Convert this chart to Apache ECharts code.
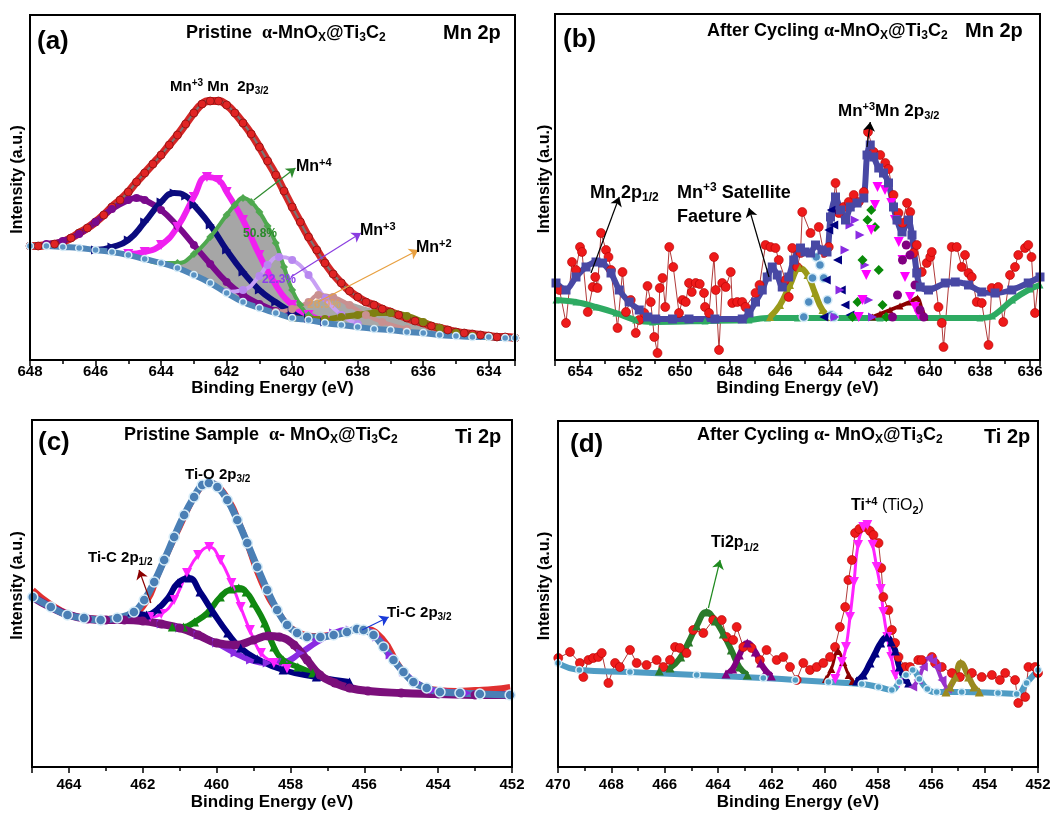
<!DOCTYPE html>
<html>
<head>
<meta charset="utf-8">
<script src="https://cdn.jsdelivr.net/npm/echarts@6/dist/echarts.min.js"></script>
<style>
  html, body { margin: 0; background: #fff; }
  #chart { width: 1060px; height: 816px; }
</style>
</head>
<body>
<div id="chart"></div>
<script>
const FONT = '"Liberation Sans", Arial, sans-serif';

// ---- (a) Pristine Mn 2p : [binding energy, intensity] ----
const A_RED = [[648,114],[647.75,114],[647.5,115],[647.25,116],[647,118],[646.75,122],[646.5,127],[646.25,132],[646,138],[645.75,145],[645.5,153],[645.25,160],[645,168],[644.75,178],[644.5,187],[644.25,196],[644,205],[643.75,215],[643.5,225],[643.25,236],[643,247],[642.75,256],[642.5,259],[642.25,259],[642,255],[641.75,247],[641.5,237],[641.25,226],[641,213],[640.75,199],[640.5,185],[640.25,169],[640,153],[639.75,138],[639.5,123],[639.25,110],[639,97],[638.75,86],[638.5,77],[638.25,69],[638,63],[637.75,58],[637.5,55],[637.25,51],[637,48],[636.75,45],[636.5,42],[636.25,39],[636,37],[635.75,34],[635.5,32],[635.25,30],[635,28],[634.75,27],[634.5,26],[634.25,25],[634,24],[633.75,23],[633.5,23],[633.2,22]];
const A_BG = [[648,114],[647.5,114],[647,113],[646.5,112],[646,110],[645.5,108],[645,105],[644.5,101],[644,97],[643.5,92],[643,85],[642.5,77],[642,67],[641.5,58],[641,52],[640.5,47],[640,42],[639.5,40],[639,37],[638.5,35],[638,33],[637.5,31],[637,30],[636.5,28],[636,27],[635.5,25],[635,24],[634.5,23],[634,23],[633.5,22],[633.2,22]];
const A_PURPLE = [[647.5,116],[647,119],[646.5,126],[646,138],[645.5,151],[645,160],[644.75,162],[644.5,160],[644,150],[643.5,134],[643,115],[642.5,96],[642,78],[641.5,65],[641,56],[640.5,49],[640,43]];
const A_NAVY = [[646,110],[645.5,113],[645,120],[644.5,138],[644,158],[643.6,167],[643.25,164],[643,155],[642.5,135],[642,110],[641.5,88],[641,70],[640.5,58],[640,48],[639.5,42],[639,38]];
const A_MAGENTA = [[645,106],[644.5,108],[644,115],[643.5,133],[643,163],[642.6,183],[642.25,180],[642,168],[641.5,140],[641,105],[640.5,75],[640,55],[639.5,45],[639,39]];
const A_GREEN = [[644.5,101],[644,97],[643.5,97],[643,106],[642.5,123],[642,145],[641.75,155],[641.5,162],[641.25,158],[641,148],[640.75,134],[640.5,117],[640.25,93],[640,70],[639.75,55],[639.5,45],[639,38]];
const A_LAVENDER = [[642,68],[641.5,70],[641,84],[640.75,95],[640.4,103],[640,100],[639.5,85],[639,62],[638.5,45],[638,36]];
const A_ROSE = [[640.5,48],[640,51],[639.5,58],[639.2,65],[638.75,63],[638.25,55],[637.75,45],[637.25,38],[636.5,31]];
const A_OLIVE = [[640,42],[639.5,41],[639,41],[638.5,43],[638,45],[637.5,47],[637,47],[636.5,44],[636,38],[635.5,32],[635,27],[634.5,24],[634,23]];
const A_GRAY = [[640.25,44],[639.75,52],[639.25,60],[638.75,62],[638.25,58],[637.75,53],[637.25,49],[636.5,44],[636,40],[635.5,36],[635,32],[634.5,28],[634,25],[633.5,23],[633.2,22]];

// ---- (b) After cycling Mn 2p ----
const B_RED = [[654.82,70],[654.56,37],[654.32,98],[654.16,90],[654.0,113],[653.92,108],[653.69,48],[653.49,73],[653.39,83],[653.3,72],[653.16,127],[652.96,110],[652.86,103],[652.76,90],[652.5,32],[652.3,88],[652.16,48],[651.97,60],[651.77,27],[651.63,40],[651.43,47],[651.3,74],[651.17,58],[651.03,23],[650.9,7],[650.81,72],[650.7,82],[650.59,53],[650.43,113],[650.27,93],[650.04,47],[649.9,60],[649.77,58],[649.64,77],[649.53,68],[649.37,77],[649.21,76],[649.04,67],[649.0,53],[648.84,47],[648.64,103],[648.57,70],[648.44,10],[648.31,77],[648.17,73],[647.97,88],[647.91,57],[647.71,58],[647.51,58],[647.38,53],[646.98,67],[646.82,75],[646.58,115],[646.38,113],[646.18,112],[646.05,100],[645.78,80],[645.65,63],[645.51,112],[645.31,93],[645.18,107],[645.11,148],[644.78,127],[644.45,133],[644.25,107],[644.05,113],[643.78,177],[643.65,147],[643.45,153],[643.25,158],[643.05,165],[642.85,158],[642.65,168],[642.48,228],[642.25,208],[641.99,205],[641.79,197],[641.66,191],[641.46,165],[641.26,147],[641.1,137],[640.92,157],[640.79,148],[640.66,107],[640.53,115],[640.33,88],[640.13,97],[639.99,103],[639.93,108],[639.66,53],[639.53,37],[639.46,13],[639.13,113],[638.93,113],[638.73,93],[638.6,105],[638.46,87],[638.33,83],[638.13,58],[637.93,57],[637.66,15],[637.53,72],[637.27,73],[637.07,38],[636.8,85],[636.6,93],[636.47,105],[636.2,112],[636.07,115],[635.94,103],[635.8,47],[635.54,108]];
const B_BLUE = [[654.96,77],[654.56,70],[654.16,83],[653.76,93],[653.36,98],[653.1,97],[652.76,87],[652.43,70],[652.03,58],[651.63,50],[651.3,43],[650.97,41],[650.3,41],[649.64,41],[648.6,41],[647.51,41],[647.24,47],[646.98,58],[646.71,70],[646.51,83],[646.31,93],[646.11,85],[645.91,73],[645.65,83],[645.45,100],[645.18,112],[645.0,108],[644.78,107],[644.58,115],[644.32,110],[644.12,108],[643.98,143],[643.78,163],[643.58,150],[643.38,140],[643.19,153],[642.92,157],[642.65,162],[642.52,205],[642.39,215],[642.25,203],[642.05,192],[641.86,187],[641.66,177],[641.46,153],[641.32,140],[641.12,128],[640.86,140],[640.72,125],[640.53,87],[640.39,73],[640.06,70],[639.39,77],[638.99,78],[638.46,75],[637.93,68],[637.4,67],[636.73,70],[636.07,77],[635.6,83]];
const B_GREEN = [[654.96,60],[654.16,58],[653.36,53],[652.56,47],[651.77,40],[651.1,38],[649,39],[647.24,40],[646.5,42],[645.3,42],[642,42],[638,42],[637.5,44],[636.7,60],[636.0,71],[635.6,75]];
const B_OLIVE = [[646.4,43],[646.0,55],[645.6,75],[645.2,92],[644.9,85],[644.6,67],[644.3,50],[644.0,43]];
const B_BALLS = [[645.05,43],[644.85,58],[644.7,82],[644.55,103],[644.4,95],[644.25,82],[644.1,60],[643.95,45],[643.85,43]];
const B_NAVY = [[644.25,43],[644.15,80],[644.05,130],[643.95,150],[643.85,135],[643.7,100],[643.55,70],[643.4,55],[643.2,45]];
const B_VIOLET = [[643.8,43],[643.6,70],[643.4,110],[643.2,135],[643.0,140],[642.8,125],[642.6,95],[642.45,60],[642.3,43]];
const B_DIAMOND = [[643.1,43],[642.9,58],[642.7,100],[642.5,140],[642.35,150],[642.2,133],[642.05,90],[641.9,55],[641.75,43]];
const B_MAGENTA = [[642.85,43],[642.7,60],[642.55,85],[642.35,130],[642.2,155],[642.1,173],[641.8,170],[641.55,157],[641.4,140],[641.25,118],[641.1,100],[641.0,83],[640.8,63],[640.6,53],[640.45,45]];
const B_DPURPLE = [[641.5,43],[641.3,65],[641.1,100],[640.95,115],[640.8,105],[640.6,75],[640.4,50],[640.25,43]];
const B_DRED = [[642.3,43],[642.0,46],[641.6,50],[641.2,54],[640.8,58],[640.5,62],[640.35,52],[640.2,43]];

// ---- (c) Pristine Ti 2p ----
const C_RED = [[464.98,177],[464.5,163],[464,153],[463.5,149],[463,148],[462.5,150],[462,160],[461.5,200],[461,240],[460.5,276],[460.2,284],[459.8,274],[459.3,236],[458.8,186],[458.3,153],[457.8,135],[457.3,131],[456.8,133],[456.3,137],[456,138],[455.5,128],[455,98],[454.5,82],[454,77],[453.5,76],[453,77],[452.5,78],[452.05,80]];
const C_ENV = [[464.98,170],[464.49,160],[464.04,152],[463.59,149],[463.14,147],[462.69,149],[462.24,155],[461.96,167],[461.69,185],[461.42,207],[461.15,230],[460.88,252],[460.61,270],[460.39,282],[460.21,284],[459.98,280],[459.71,267],[459.44,247],[459.17,224],[458.9,200],[458.63,177],[458.36,157],[458.09,142],[457.82,134],[457.55,130],[457.19,130],[456.83,132],[456.47,135],[456.2,138],[456.02,137],[455.75,132],[455.48,120],[455.21,107],[454.94,95],[454.67,85],[454.31,79],[453.95,75],[453.41,74],[452.87,73],[452.05,72]];
const C_PURPLE = [[464.98,170],[464.5,160],[464,152],[463.5,148],[463,147],[462.5,147],[462,146],[461.5,143],[461,139],[460.5,132],[460,124],[459.5,122],[459,127],[458.6,131],[458.3,130],[457.9,122],[457.55,107],[457.2,92],[456.8,84],[456.4,79],[455.9,76],[455,74],[454,73],[453,72],[452.05,72]];
const C_VIOLET = [[461.5,143],[461,139],[460.5,132],[460,124],[459.5,114],[459.08,107],[458.63,104],[458.18,105],[457.73,114],[457.28,125],[456.83,134],[456.38,137],[456.02,137],[455.66,130],[455.3,112],[454.94,95],[454.58,84],[454.13,77],[453.22,74],[452.05,72]];
const C_NAVY = [[462.3,155],[461.9,152],[461.6,158],[461.3,170],[461.05,184],[460.75,189],[460.45,175],[460.1,155],[459.7,134],[459.35,119],[458.9,108],[458.2,97],[457.3,90],[456.4,85]];
const C_MAGENTA = [[461.8,150],[461.5,153],[461.15,167],[460.8,194],[460.5,212],[460.2,220],[459.9,207],[459.6,184],[459.35,160],[459.1,137],[458.8,114],[458.45,104],[458.1,98]];
const C_GREEN = [[461.2,140],[460.9,140],[460.6,145],[460.25,154],[459.9,170],[459.6,178],[459.4,179],[459.2,175],[459.0,164],[458.7,144],[458.45,120],[458.2,107],[457.8,100],[457.4,94]];

// ---- (d) After cycling Ti 2p ----
const D_RED = [[469.99,109],[469.55,115],[469.18,104],[469.05,90],[468.86,107],[468.68,109],[468.49,110],[468.36,114],[468.11,84],[467.86,104],[467.68,100],[467.3,117],[467.05,104],[466.68,102],[466.3,107],[466.05,100],[465.8,107],[465.61,120],[465.43,119],[465.18,114],[464.93,137],[464.55,134],[464.18,147],[463.86,147],[463.68,130],[463.43,127],[463.3,140],[463.05,120],[462.74,119],[462.43,107],[462.18,117],[461.8,107],[461.55,110],[461.3,100],[461.05,87],[460.8,104],[460.55,97],[460.3,100],[460.05,104],[459.8,110],[459.61,120],[459.43,140],[459.23,160],[459.11,187],[458.98,207],[458.86,234],[458.7,238],[458.5,240],[458.3,236],[458.17,232],[457.98,224],[457.88,199],[457.8,170],[457.61,157],[457.48,137],[457.36,124],[457.23,110],[456.98,100],[456.8,100],[456.49,107],[456.36,107],[455.98,110],[455.86,104],[455.61,100],[455.23,94],[454.93,90],[454.48,94],[454.11,90],[453.73,92],[453.43,87],[453.23,94],[452.86,87],[452.74,64],[452.48,70],[452.36,100],[452.11,100],[452.0,94]];
const D_BG = [[470,104],[469.2,97],[467.3,95],[464.8,92],[462.3,89],[461.1,87],[459.86,85],[458.61,83],[457.98,80],[457.48,77],[457.2,85],[456.95,92],[456.7,97],[456.45,88],[456.15,78],[455.8,75],[454.86,75],[453.5,74],[452.8,73],[452.43,84],[452,97]];
const D_GREEN = [[466.2,96],[465.8,99],[465.4,110],[465.1,125],[464.8,141],[464.43,155],[464.1,146],[463.8,133],[463.5,117],[463.2,100],[462.9,92]];
const D_PURPLE = [[463.7,93],[463.45,98],[463.2,112],[462.9,124],[462.6,115],[462.4,104],[462.2,96],[462.0,91]];
const D_DRED = [[459.95,88],[459.75,98],[459.5,116],[459.3,105],[459.1,92],[458.95,86]];
const D_MAGENTA = [[459.6,88],[459.35,105],[459.2,120],[459.05,150],[458.9,185],[458.75,222],[458.55,240],[458.4,242],[458.2,222],[458.05,200],[457.9,178],[457.8,155],[457.65,130],[457.5,110],[457.35,92],[457.2,84]];
const D_NAVY = [[458.8,86],[458.55,92],[458.3,104],[458.1,114],[457.9,124],[457.67,130],[457.5,125],[457.35,116],[457.2,100],[457.0,88],[456.85,84]];
const D_VIOLET = [[456.7,80],[456.5,87],[456.3,100],[456.1,109],[455.95,106],[455.8,100],[455.6,87],[455.4,78]];
const D_OLIVE = [[455.45,75],[455.3,80],[455.1,90],[454.9,104],[454.6,90],[454.4,80],[454.2,75]];

// x ranges of the four panels
const X_RANGES = [[633.2, 648], [635.6, 655], [452, 465], [452, 470]];
const X_SPLITS = [7, 10, 6, 9];
const Y_MAX = [345, 346, 347, 346];

const GRIDS = [
  { left: 30, top: 15, width: 485, height: 345 },
  { left: 555, top: 14, width: 485, height: 346 },
  { left: 32, top: 420, width: 480, height: 347 },
  { left: 558, top: 421, width: 480, height: 346 }
];

function xAxisFor(i) {
  const bottomRow = i >= 2;
  return {
    type: 'value', gridIndex: i, inverse: true,
    min: X_RANGES[i][0], max: X_RANGES[i][1], splitNumber: X_SPLITS[i],
    z: 10,
    name: 'Binding Energy (eV)', nameLocation: 'middle', nameGap: bottomRow ? 27 : 20,
    nameTextStyle: { fontFamily: FONT, fontWeight: 'bold', fontSize: 17, color: '#000' },
    axisLine: { show: true, onZero: false, lineStyle: { color: '#000', width: 2 } },
    axisTick: { show: true, inside: false, length: 6, lineStyle: { color: '#000', width: 1.5 } },
    minorTick: { show: true, splitNumber: 2, length: 4, lineStyle: { color: '#000', width: 1.5 } },
    splitLine: { show: false },
    axisLabel: {
      fontFamily: FONT, fontWeight: 'bold', fontSize: 15, color: '#000',
      margin: bottomRow ? 10 : 4,
      formatter: v => (Math.abs(v - Math.round(v / 2) * 2) < 1e-6 ? String(Math.round(v)) : '')
    }
  };
}

function yAxisFor(i) {
  return {
    type: 'value', gridIndex: i, min: 0, max: Y_MAX[i],
    name: 'Intensity (a.u.)', nameLocation: 'middle', nameRotate: 90,
    nameGap: [4, 2, 6, 5][i],
    nameTextStyle: { fontFamily: FONT, fontWeight: 'bold', fontSize: 16, color: '#000', padding: [0, 0, 0, 16] },
    axisLine: { show: false }, axisTick: { show: false },
    axisLabel: { show: false }, splitLine: { show: false }
  };
}

function curve(g, data, color, symbol, extra) {
  return Object.assign({
    type: 'line', xAxisIndex: g, yAxisIndex: g, data: data,
    smooth: true, symbol: symbol || 'circle', symbolSize: 8, showSymbol: true,
    lineStyle: { color: color, width: 6 },
    itemStyle: { color: color },
    emphasis: { disabled: true }
  }, extra || {});
}

function noisy(g, data) {
  return {
    type: 'line', xAxisIndex: g, yAxisIndex: g, data: data, smooth: false,
    symbol: 'circle', symbolSize: 9,
    lineStyle: { color: '#b03a3a', width: 1 },
    itemStyle: { color: '#ee1a1a', borderColor: '#b00000', borderWidth: 0.6 },
    emphasis: { disabled: true }
  };
}

function arrows(list) {
  return {
    silent: true, symbol: ['none', 'arrow'], symbolSize: 9,
    label: { show: false }, lineStyle: { type: 'solid', width: 1.2 },
    data: list.map(a => [{ coord: a[0], lineStyle: { color: a[2], type: 'solid', width: 1.2 } }, { coord: a[1] }])
  };
}

const RING = { borderColor: '#d6ecf8', borderWidth: 1.5 };

const series = [
  // (a)
  curve(0, A_GREEN, 'rgba(0,0,0,0)', 'none', { lineStyle: { width: 0 }, areaStyle: { color: '#a6a6a6', opacity: 1 } }),
  curve(0, A_GRAY, 'rgba(0,0,0,0)', 'none', { lineStyle: { width: 0 }, areaStyle: { color: '#a8a8a8', opacity: 1 } }),
  curve(0, A_BG, 'rgba(0,0,0,0)', 'none', { lineStyle: { width: 0 }, areaStyle: { color: '#ffffff', opacity: 1 } }),
  curve(0, A_RED, '#d42626', 'circle', { lineStyle: { color: '#d42626', width: 8 }, itemStyle: { color: '#e02424', borderColor: '#8a1010', borderWidth: 0.8 } }),
  curve(0, A_RED, '#7a7a7a', 'none', { lineStyle: { color: '#777', width: 2 } }),
  curve(0, A_PURPLE, '#7a0a8c', 'circle'),
  curve(0, A_NAVY, '#0b0b7e', 'triangle', { symbolRotate: -90, symbolSize: 9 }),
  curve(0, A_MAGENTA, '#f020f0', 'triangle', { symbolRotate: 180, symbolSize: 10 }),
  curve(0, A_GREEN, '#4fa84f', 'diamond', { lineStyle: { color: '#4fa84f', width: 4 } }),
  curve(0, A_LAVENDER, '#b888f0', 'circle', { lineStyle: { color: '#c8a0f4', width: 4 } }),
  curve(0, A_ROSE, '#c99090', 'circle', { lineStyle: { color: '#c99090', width: 4 } }),
  curve(0, A_OLIVE, '#7f7f10', 'circle', { lineStyle: { color: '#7f7f10', width: 6 } }),
  curve(0, A_BG, '#4f86b8', 'circle', {
    lineStyle: { color: '#4f86b8', width: 6 }, symbolSize: 7, itemStyle: Object.assign({ color: '#5a93c4' }, RING),
    markLine: arrows([
      [[641.17, 160], [639.9, 192], '#2e8b2e'],
      [[640.04, 83], [637.9, 127], '#8a3de0'],
      [[639.21, 58], [636.15, 110], '#e8a040']
    ])
  }),

  // (b)
  noisy(1, B_RED),
  curve(1, B_GREEN, '#2eaa62', 'triangle', { smooth: 0.3, symbolSize: 7, lineStyle: { color: '#2eaa62', width: 6 } }),
  curve(1, B_DRED, '#8b0000', 'triangle', { smooth: 0.3, symbolSize: 7, lineStyle: { color: '#8b0000', width: 4 } }),
  curve(1, B_OLIVE, '#9a9a1a', 'triangle', { lineStyle: { color: '#9a9a1a', width: 6 } }),
  curve(1, B_BALLS, '#4f8cc0', 'circle', { symbolSize: 9, itemStyle: Object.assign({ color: '#4f8cc0' }, RING), lineStyle: { width: 0 } }),
  curve(1, B_NAVY, '#000080', 'triangle', { symbolRotate: 90, lineStyle: { width: 0 }, symbolSize: 9 }),
  curve(1, B_VIOLET, '#8a2be2', 'triangle', { symbolRotate: -90, lineStyle: { width: 0 }, symbolSize: 9 }),
  curve(1, B_DIAMOND, '#0a8a0a', 'diamond', { lineStyle: { width: 0 }, symbolSize: 10 }),
  curve(1, B_MAGENTA, '#ff00ff', 'triangle', { symbolRotate: 180, lineStyle: { width: 0 }, symbolSize: 10 }),
  curve(1, B_DPURPLE, '#800080', 'circle', { lineStyle: { width: 0 }, symbolSize: 9 }),
  curve(1, B_BLUE, '#4848a4', 'rect', {
    smooth: 0.25, symbolSize: 9, lineStyle: { color: '#4848a4', width: 6 },
    markLine: arrows([
      [[653.56, 87], [652.43, 163], '#000'],
      [[646.44, 83], [647.24, 152], '#000'],
      [[642.52, 213], [642.39, 238], '#000']
    ])
  }),

  // (c)
  curve(2, C_RED, '#e03030', 'none', { lineStyle: { color: '#e03030', width: 6 } }),
  curve(2, C_VIOLET, '#8a2be2', 'triangle', { symbolRotate: -90, symbolSize: 9, lineStyle: { color: '#8a2be2', width: 6 } }),
  curve(2, C_GREEN, '#118811', 'triangle', { symbolSize: 9, lineStyle: { color: '#118811', width: 6 } }),
  curve(2, C_MAGENTA, '#ff22ff', 'triangle', { symbolRotate: 180, symbolSize: 10, lineStyle: { color: '#ff22ff', width: 3 } }),
  curve(2, C_NAVY, '#000080', 'triangle', { symbolSize: 9, lineStyle: { color: '#000080', width: 6 } }),
  curve(2, C_PURPLE, '#7b0f7b', 'circle', { symbolSize: 9, lineStyle: { color: '#7b0f7b', width: 8 } }),
  curve(2, C_ENV, '#4a7fb5', 'circle', {
    symbolSize: 10, itemStyle: Object.assign({ color: '#4a7fb5' }, RING), lineStyle: { color: '#4a7fb5', width: 7 },
    markLine: arrows([
      [[461.78, 164], [462.1, 197], '#8b0000'],
      [[456.06, 137], [455.34, 150], '#1a3ad8']
    ])
  }),

  // (d)
  noisy(3, D_RED),
  curve(3, D_GREEN, '#2a7a2a', 'triangle', { symbolSize: 9, lineStyle: { color: '#2a7a2a', width: 6 } }),
  curve(3, D_PURPLE, '#800080', 'triangle', { symbolSize: 9, lineStyle: { color: '#800080', width: 6 } }),
  curve(3, D_DRED, '#8b0000', 'triangle', { symbolSize: 8, lineStyle: { color: '#8b0000', width: 3 } }),
  curve(3, D_MAGENTA, '#ff22ff', 'triangle', { symbolRotate: 180, symbolSize: 10, lineStyle: { color: '#ff22ff', width: 3 } }),
  curve(3, D_NAVY, '#000080', 'triangle', { symbolSize: 9, lineStyle: { color: '#000080', width: 6 } }),
  curve(3, D_VIOLET, '#9932cc', 'triangle', { symbolRotate: 90, symbolSize: 9, lineStyle: { color: '#9932cc', width: 4 } }),
  curve(3, D_OLIVE, '#9a8a20', 'triangle', { symbolSize: 9, lineStyle: { color: '#9a8a20', width: 6 } }),
  curve(3, D_BG, '#4f9cc4', 'circle', {
    symbolSize: 7, itemStyle: Object.assign({ color: '#4f9cc4' }, RING), lineStyle: { color: '#4f9cc4', width: 6 },
    markLine: arrows([[[464.36, 159], [463.92, 207], '#1f8a1f']])
  })
];

// annotation text with sub/superscripts
function rich(size, color) {
  const s = Math.round(size * 0.66);
  const pad = Math.round(size * 0.55);
  return {
    sup: { font: `bold ${s}px ${FONT}`, fill: color, verticalAlign: 'top', padding: [0, 0, pad, 0] },
    sub: { font: `bold ${s}px ${FONT}`, fill: color, verticalAlign: 'bottom', padding: [pad, 0, 0, 0] },
    al: { font: `bold ${size}px "Liberation Serif", serif`, fill: color },
    n: { font: `${size}px ${FONT}`, fill: color }
  };
}
function txt(x, y, text, size, color, opacity) {
  color = color || '#000';
  return {
    type: 'text', x: x, y: y, z: 100, silent: true,
    style: {
      text: text, fill: color, opacity: opacity == null ? 1 : opacity,
      font: `bold ${size}px ${FONT}`, align: 'left', verticalAlign: 'middle',
      rich: rich(size, color)
    }
  };
}

const graphic = [
  txt(37, 42, '(a)', 26),
  txt(186, 33, 'Pristine  {al|α}-MnO{sub|X}@Ti{sub|3}C{sub|2}', 18),
  txt(443, 33, 'Mn 2p', 20),
  txt(170, 87, 'Mn{sup|+3} Mn  2p{sub|3/2}', 15),
  txt(296, 167, 'Mn{sup|+4}', 16),
  txt(243, 234, '50.8%', 12, '#2a8a2a'),
  txt(360, 231, 'Mn{sup|+3}', 16),
  txt(262, 280, '22.3%', 12, '#8a40e8'),
  txt(416, 248, 'Mn{sup|+2}', 16),
  txt(307, 305, '26.9%', 12, '#f0a040', 0.6),

  txt(563, 40, '(b)', 26),
  txt(707, 31, 'After Cycling {al|α}-MnO{sub|X}@Ti{sub|3}C{sub|2}', 18),
  txt(965, 31, 'Mn 2p', 20),
  txt(590, 193, 'Mn 2p{sub|1/2}', 18),
  txt(677, 193, 'Mn{sup|+3} Satellite', 18),
  txt(677, 217, 'Faeture', 18),
  txt(838, 111, 'Mn{sup|+3}Mn 2p{sub|3/2}', 17),

  txt(38, 443, '(c)', 26),
  txt(124, 435, 'Pristine Sample  {al|α}- MnO{sub|X}@Ti{sub|3}C{sub|2}', 18),
  txt(455, 437, 'Ti 2p', 20),
  txt(185, 475, 'Ti-O 2p{sub|3/2}', 15),
  txt(88, 558, 'Ti-C 2p{sub|1/2}', 15),
  txt(387, 613, 'Ti-C 2p{sub|3/2}', 15),

  txt(570, 445, '(d)', 26),
  txt(697, 435, 'After Cycling {al|α}- MnO{sub|X}@Ti{sub|3}C{sub|2}', 18),
  txt(984, 437, 'Ti 2p', 20),
  txt(711, 543, 'Ti2p{sub|1/2}', 16),
  txt(851, 506, 'Ti{sup|+4}{n| (TiO}{sub|2}{n|)}', 16)
];

const chart = echarts.init(document.getElementById('chart'));
chart.setOption({
  animation: false,
  backgroundColor: '#fff',
  grid: GRIDS.map(g => Object.assign({ show: true, borderColor: '#000', borderWidth: 2, z: 10 }, g)),
  xAxis: [0, 1, 2, 3].map(xAxisFor),
  yAxis: [0, 1, 2, 3].map(yAxisFor),
  series: series,
  graphic: graphic
});
</script>
</body>
</html>
